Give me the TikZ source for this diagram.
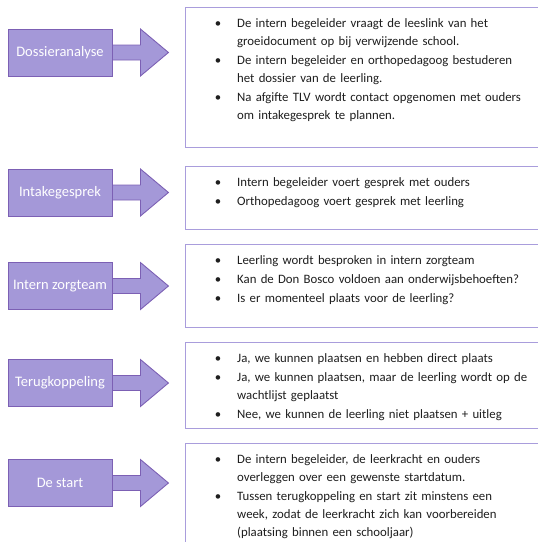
\documentclass[tikz,border=0pt]{standalone}
\usepackage{fontspec}
\setmainfont{Carlito}
\usepackage{enumitem}
\usetikzlibrary{calc, math}

\definecolor{paars}{HTML}{A498D8}
\definecolor{paarsrand}{HTML}{7C60B4}
\definecolor{vakrand}{HTML}{A99DDC}
\definecolor{tekstkleur}{HTML}{1E1E1E}

\setlist[itemize]{label=\textbullet, leftmargin=30pt, labelsep=16pt, itemsep=1pt, topsep=0pt, parsep=0pt, partopsep=0pt}

\tikzset{
  stapvak/.style={draw=paarsrand, fill=paars, line width=0.9pt, minimum width=104pt, minimum height=47pt, inner sep=0pt, text=white, font=\fontsize{14.5}{17}\selectfont},
  pijl/.style={draw=paarsrand, fill=paars, line width=0.9pt, line join=miter},
  kader/.style={draw=vakrand, fill=white, line width=1pt, inner sep=0pt, anchor=north west, minimum width=400pt},
  lijst/.style={anchor=north west, inner sep=0pt, text width=330pt, text=tekstkleur, font=\fontsize{12.8}{18}\selectfont},
}

\begin{document}
\begin{tikzpicture}[x=1pt, y=-1pt]

\tikzmath{
      \links = 185; \inspring = 22; \zakken = 2;
      \topA = 7;   \hoogA = 140;
      \topB = 166; \hoogB = 63;
      \topC = 244; \hoogC = 83;
      \topD = 342; \hoogD = 86;
      \topE = 443; \hoogE = 130;
      \pijlA = 52.5; \pijlB = 192.5; \pijlC = 286; \pijlD = 383; \pijlE = 483;
          }

\path[use as bounding box, clip] (0,0) rectangle (538,542);

% stappen
\node[stapvak] (dossier) at (60,\pijlA) {Dossieranalyse};
\draw[pijl] ($(dossier.east)+(0,-7.5)$) -- ++(28,0) -- ++(0,-16) -- ++(28,23.5) -- ++(-28,23.5) -- ++(0,-16) -- ++(-28,0) -- cycle;

\node[stapvak] (intake) at (60,\pijlB) {Intakegesprek};
\draw[pijl] ($(intake.east)+(0,-7.5)$) -- ++(28,0) -- ++(0,-16) -- ++(28,23.5) -- ++(-28,23.5) -- ++(0,-16) -- ++(-28,0) -- cycle;

\node[stapvak] (zorgteam) at (60,\pijlC) {Intern zorgteam};
\draw[pijl] ($(zorgteam.east)+(0,-7.5)$) -- ++(28,0) -- ++(0,-16) -- ++(28,23.5) -- ++(-28,23.5) -- ++(0,-16) -- ++(-28,0) -- cycle;

\node[stapvak] (terug) at (60,\pijlD) {Terugkoppeling};
\draw[pijl] ($(terug.east)+(0,-7.5)$) -- ++(28,0) -- ++(0,-16) -- ++(28,23.5) -- ++(-28,23.5) -- ++(0,-16) -- ++(-28,0) -- cycle;

\node[stapvak] (start) at (60,\pijlE) {De start};
\draw[pijl] ($(start.east)+(0,-7.5)$) -- ++(28,0) -- ++(0,-16) -- ++(28,23.5) -- ++(-28,23.5) -- ++(0,-16) -- ++(-28,0) -- cycle;

% kaders met uitleg
\node[kader, minimum height=\hoogA] (vakA) at (\links,\topA) {};
\node[lijst] (lijstA) at ($(vakA.north west)+(\inspring,\zakken)$) {%
  \begin{itemize}
  \item De intern begeleider vraagt de leeslink van het\\groeidocument op bij verwijzende school.
  \item De intern begeleider en orthopedagoog bestuderen\\het dossier van de leerling.
  \item Na afgifte TLV wordt contact opgenomen met ouders\\om intakegesprek te plannen.
  \end{itemize}};

\node[kader, minimum height=\hoogB] (vakB) at (\links,\topB) {};
\node[lijst] (lijstB) at ($(vakB.north west)+(\inspring,\zakken)$) {%
  \begin{itemize}
  \item Intern begeleider voert gesprek met ouders
  \item Orthopedagoog voert gesprek met leerling
  \end{itemize}};

\node[kader, minimum height=\hoogC] (vakC) at (\links,\topC) {};
\node[lijst] (lijstC) at ($(vakC.north west)+(\inspring,\zakken)$) {%
  \begin{itemize}
  \item Leerling wordt besproken in intern zorgteam
  \item Kan de Don Bosco voldoen aan onderwijsbehoeften?
  \item Is er momenteel plaats voor de leerling?
  \end{itemize}};

\node[kader, minimum height=\hoogD] (vakD) at (\links,\topD) {};
\node[lijst] (lijstD) at ($(vakD.north west)+(\inspring,\zakken)$) {%
  \begin{itemize}
  \item Ja, we kunnen plaatsen en hebben direct plaats
  \item Ja, we kunnen plaatsen, maar de leerling wordt op de\\wachtlijst geplaatst
  \item Nee, we kunnen de leerling niet plaatsen + uitleg
  \end{itemize}};

\node[kader, minimum height=\hoogE] (vakE) at (\links,\topE) {};
\node[lijst] (lijstE) at ($(vakE.north west)+(\inspring,\zakken)$) {%
  \begin{itemize}
  \item De intern begeleider, de leerkracht en ouders\\overleggen over een gewenste startdatum.
  \item Tussen terugkoppeling en start zit minstens een\\week, zodat de leerkracht zich kan voorbereiden\\(plaatsing binnen een schooljaar)
  \end{itemize}};

\end{tikzpicture}
\end{document}
